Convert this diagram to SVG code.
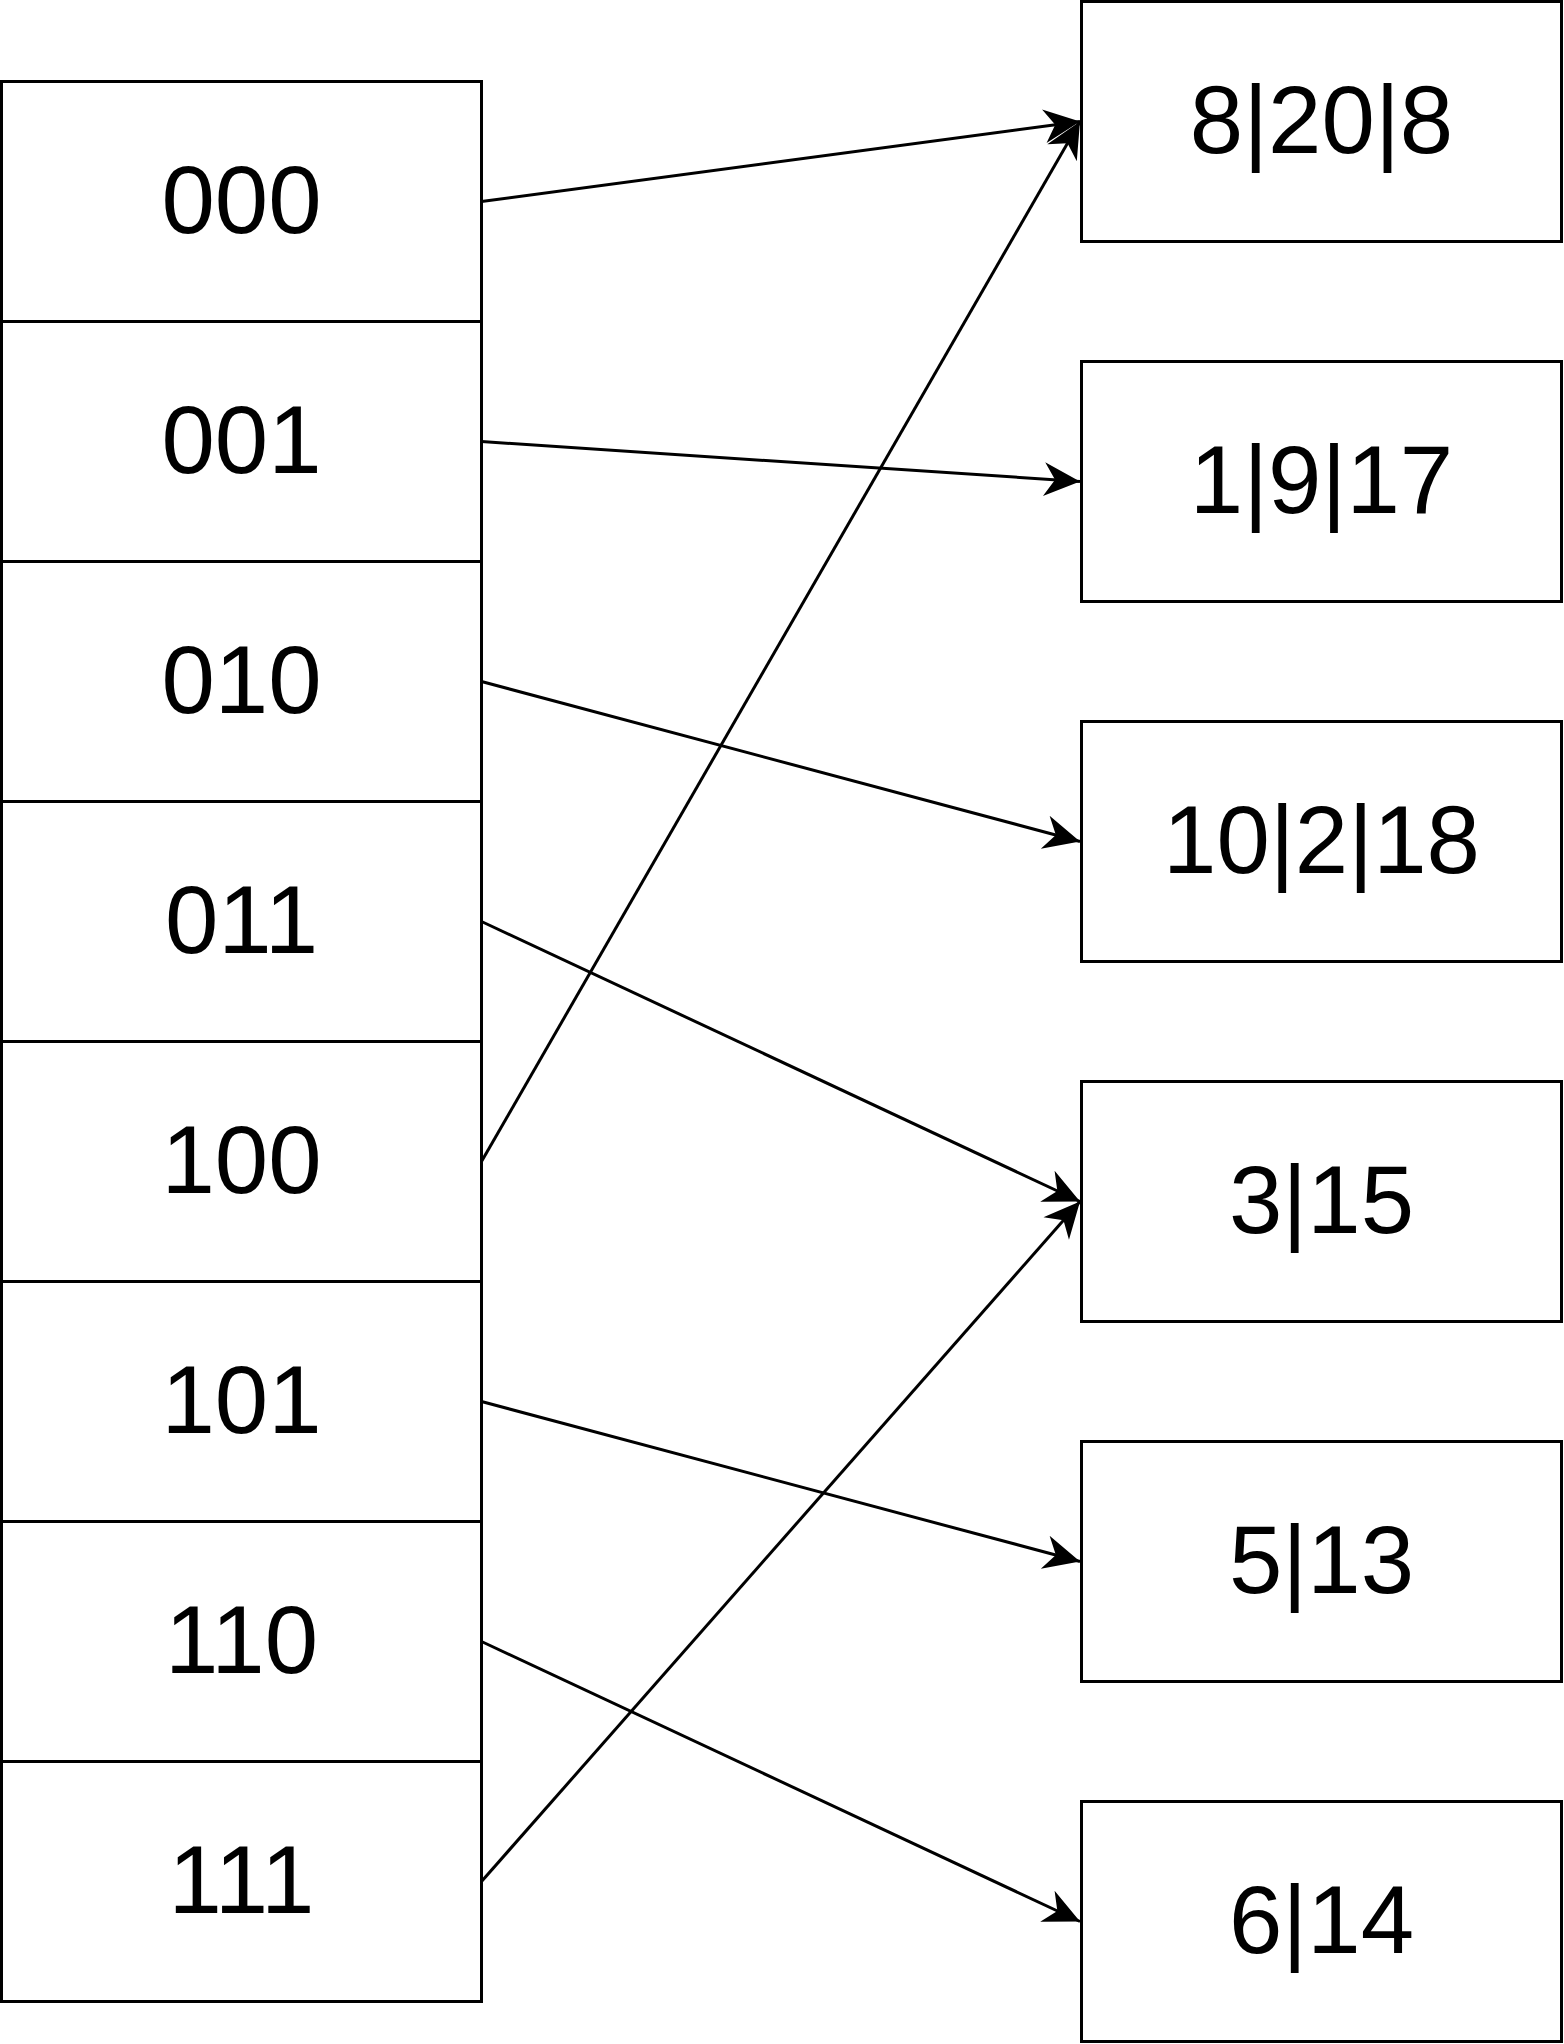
<svg xmlns="http://www.w3.org/2000/svg" width="1564" height="2044" viewBox="0 0 1564 2044">
<style>
.box{fill:#ffffff;stroke:#000000;stroke-width:3}
.lbl{font-family:"Liberation Sans",Arial,sans-serif;font-size:96px;fill:#000000;text-anchor:middle}
.edge{fill:none;stroke:#000000;stroke-width:3;marker-end:url(#arr)}
</style>
<defs>
<marker id="arr" markerUnits="userSpaceOnUse" viewBox="-38 -20 40 40" refX="0" refY="0" markerWidth="40" markerHeight="40" orient="auto">
<path d="M0,0 L-36,-17 L-25,0 L-36,17 Z" fill="#000000" stroke="none"/>
</marker>
</defs>
<rect width="1564" height="2044" fill="#ffffff"/>
<g id="cells">
<g id="c000"><rect class="box" x="1.5" y="81.5" width="480" height="240"/><text class="lbl" x="241.5" y="232.5">000</text></g>
<g id="c001"><rect class="box" x="1.5" y="321.5" width="480" height="240"/><text class="lbl" x="241.5" y="472.5">001</text></g>
<g id="c010"><rect class="box" x="1.5" y="561.5" width="480" height="240"/><text class="lbl" x="241.5" y="712.5">010</text></g>
<g id="c011"><rect class="box" x="1.5" y="801.5" width="480" height="240"/><text class="lbl" x="241.5" y="952.5">011</text></g>
<g id="c100"><rect class="box" x="1.5" y="1041.5" width="480" height="240"/><text class="lbl" x="241.5" y="1192.5">100</text></g>
<g id="c101"><rect class="box" x="1.5" y="1281.5" width="480" height="240"/><text class="lbl" x="241.5" y="1432.5">101</text></g>
<g id="c110"><rect class="box" x="1.5" y="1521.5" width="480" height="240"/><text class="lbl" x="241.5" y="1672.5">110</text></g>
<g id="c111"><rect class="box" x="1.5" y="1761.5" width="480" height="240"/><text class="lbl" x="241.5" y="1912.5">111</text></g>
</g>
<g id="buckets">
<g id="b1"><rect class="box" x="1081.5" y="1.5" width="480" height="240"/><text class="lbl" x="1321.5" y="152.5">8|20|8</text></g>
<g id="b2"><rect class="box" x="1081.5" y="361.5" width="480" height="240"/><text class="lbl" x="1321.5" y="512.5">1|9|17</text></g>
<g id="b3"><rect class="box" x="1081.5" y="721.5" width="480" height="240"/><text class="lbl" x="1321.5" y="872.5">10|2|18</text></g>
<g id="b4"><rect class="box" x="1081.5" y="1081.5" width="480" height="240"/><text class="lbl" x="1321.5" y="1232.5">3|15</text></g>
<g id="b5"><rect class="box" x="1081.5" y="1441.5" width="480" height="240"/><text class="lbl" x="1321.5" y="1592.5">5|13</text></g>
<g id="b6"><rect class="box" x="1081.5" y="1801.5" width="480" height="240"/><text class="lbl" x="1321.5" y="1952.5">6|14</text></g>
</g>
<g id="connectors">
<line class="edge" x1="481.5" y1="201.5" x2="1080" y2="121.5"/>
<line class="edge" x1="481.5" y1="441.5" x2="1080" y2="481.5"/>
<line class="edge" x1="481.5" y1="681.5" x2="1080" y2="841.5"/>
<line class="edge" x1="481.5" y1="921.5" x2="1080" y2="1201.5"/>
<line class="edge" x1="481.5" y1="1161.5" x2="1080" y2="121.5"/>
<line class="edge" x1="481.5" y1="1401.5" x2="1080" y2="1561.5"/>
<line class="edge" x1="481.5" y1="1641.5" x2="1080" y2="1921.5"/>
<line class="edge" x1="481.5" y1="1881.5" x2="1080" y2="1201.5"/>
</g>
</svg>
